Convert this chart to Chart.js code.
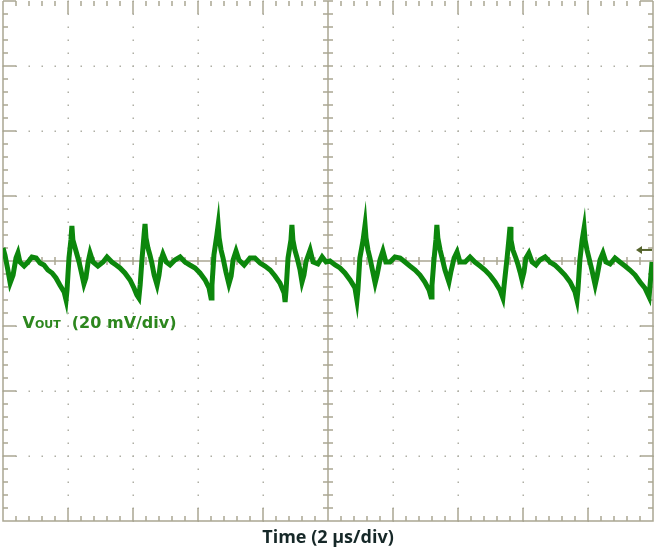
<!DOCTYPE html>
<html>
<head>
<meta charset="utf-8">
<script src="https://cdn.jsdelivr.net/npm/chart.js@4.4.1/dist/chart.umd.min.js"></script>
<style>
html,body{margin:0;padding:0;background:#fff;}
</style>
</head>
<body>
<canvas id="scope" width="659" height="557"></canvas>
<script>
// time in us, Vout ripple in mV
const timeUs=[0.00,0.06,0.15,0.22,0.31,0.40,0.46,0.52,0.65,0.77,0.89,1.02,1.14,1.26,1.38,1.51,1.63,1.75,1.88,1.94,
1.97,2.03,2.09,2.12,2.15,2.22,2.28,2.34,2.43,2.49,2.55,2.62,2.68,2.77,2.92,3.08,3.20,3.35,3.48,3.60,3.75,3.91,
4.03,4.12,4.18,4.22,4.28,4.34,4.37,4.40,4.46,4.52,4.58,4.65,4.74,4.80,4.86,4.92,5.02,5.14,5.29,5.45,5.60,5.75,
5.91,6.06,6.22,6.34,6.40,6.43,6.49,6.58,6.62,6.65,6.71,6.77,6.86,6.95,7.02,7.08,7.17,7.26,7.42,7.60,7.75,7.91,
8.06,8.22,8.37,8.52,8.65,8.68,8.71,8.77,8.86,8.89,8.92,8.98,9.05,9.14,9.20,9.26,9.32,9.45,9.54,9.69,9.82,9.94,
10.06,10.22,10.37,10.52,10.68,10.83,10.89,10.92,10.98,11.08,11.14,11.17,11.23,11.29,11.38,11.45,11.51,11.60,
11.69,11.78,11.91,12.06,12.22,12.37,12.52,12.68,12.83,12.98,13.11,13.17,13.20,13.26,13.32,13.35,13.38,13.45,
13.51,13.60,13.72,13.78,13.88,13.97,14.06,14.22,14.37,14.52,14.68,14.83,14.98,15.14,15.29,15.38,15.42,15.51,
15.57,15.60,15.63,15.69,15.78,15.85,15.91,15.97,16.03,16.09,16.18,16.28,16.40,16.52,16.68,16.83,16.98,17.14,
17.29,17.45,17.60,17.66,17.69,17.75,17.82,17.88,17.91,17.97,18.03,18.12,18.22,18.28,18.37,18.46,18.55,18.68,
18.83,18.98,19.14,19.29,19.45,19.60,19.75,19.88,19.91,19.97];
const voutMv=[4.0,1.85,-2.77,-6.77,-4.31,0.92,2.46,-0.31,-1.54,-0.31,1.23,0.92,-0.62,-1.23,-2.77,-3.69,-5.23,-7.38,-9.54,-12.0,
-8.92,0.92,6.46,10.77,6.46,4.0,1.85,-0.31,-4.31,-7.08,-5.23,-0.31,2.46,-0.31,-1.54,-0.31,1.23,-0.31,-1.23,-2.15,-3.69,-5.85,
-8.31,-10.46,-11.38,-7.38,0.92,8.0,11.38,7.08,4.0,1.85,-0.62,-4.31,-7.38,-4.31,0.31,2.15,-0.31,-1.23,0.31,1.23,-0.31,-1.23,
-2.15,-3.69,-5.85,-8.31,-11.38,-7.38,1.85,8.0,11.08,7.08,3.38,0.92,-3.38,-7.08,-4.62,0.31,3.08,0.31,-1.23,0.92,0.92,-0.62,
-1.54,-2.77,-4.62,-6.77,-9.85,-12.62,-8.92,0.92,6.46,11.08,6.46,3.38,0.92,-2.77,-6.46,-4.31,-0.31,3.38,-0.31,-0.92,1.23,-0.31,
0,-1.23,-2.15,-3.69,-5.85,-8.31,-12.0,-8.92,0.92,6.46,11.08,7.08,3.38,0.92,-3.38,-6.77,-4.31,0.31,
3.08,-0.31,-0.31,1.23,0.92,-0.31,-1.54,-2.77,-4.31,-6.46,-8.92,-11.08,-7.38,0.31,6.46,11.08,7.08,3.38,
0.92,-2.77,-6.46,-3.38,0.92,2.77,-0.31,-0.31,1.23,-0.31,-1.54,-2.77,-4.31,-6.46,-8.92,-11.38,-7.38,0.92,
7.08,10.46,6.46,3.38,0.92,-1.23,-3.38,-5.85,-3.38,0.92,2.46,-0.31,-1.23,0.31,1.23,-0.31,-1.23,-2.77,
-4.31,-6.46,-9.54,-12.0,-8.92,0.31,6.46,10.15,6.46,3.38,0.92,-2.77,-7.38,-4.62,0.31,2.46,-0.31,-0.92,
0.92,-0.31,-1.54,-2.77,-4.31,-6.46,-8.31,-11.08,-7.38,-0.31];

const xRange=[0,20];      // 10 div x 2 us
const yRange=[-80,80];    // 8 div x 20 mV
const xMajor=[0,2,4,6,8,10,12,14,16,18,20];
const yMajor=[-80,-60,-40,-20,0,20,40,60,80];
const xMinorStep=0.4, yMinorStep=4;
const labelParts=['V','OUT','  (20 mV/div)'];
const axisTitle='Time (2 µs/div)';

const gridCol='rgb(170,167,146)';
const dotCol='rgb(175,175,165)';

const points=timeUs.map((t,i)=>({x:t,y:voutMv[i]}));

const scopeGrid={
  id:'scopeGrid',
  beforeDatasetsDraw(chart){
    const ctx=chart.ctx, a=chart.chartArea;
    const xs=chart.scales.x, ys=chart.scales.y;
    ctx.save();
    // dotted graticule
    ctx.fillStyle=dotCol;
    xMajor.forEach(t=>{
      if(t==xRange[0]||t==xRange[1]||t==10) return;
      const px=Math.round(xs.getPixelForValue(t));
      for(let v=yRange[0];v<=yRange[1];v+=yMinorStep){
        ctx.fillRect(px-0.5,Math.round(ys.getPixelForValue(v))-0.5,1.5,1.5);
      }
    });
    yMajor.forEach(v=>{
      if(v==yRange[0]||v==yRange[1]||v==0) return;
      const py=Math.round(ys.getPixelForValue(v));
      for(let t=xRange[0];t<=xRange[1]+0.001;t+=xMinorStep){
        ctx.fillRect(Math.round(xs.getPixelForValue(t))-0.5,py-0.5,1.5,1.5);
      }
    });
    ctx.strokeStyle=gridCol;
    ctx.lineWidth=1.5;
    const cx=Math.round(xs.getPixelForValue(10));
    const cy=Math.round(ys.getPixelForValue(0));
    ctx.beginPath();
    // border (no top line)
    ctx.moveTo(a.left,a.top);ctx.lineTo(a.left,a.bottom);ctx.lineTo(a.right,a.bottom);ctx.lineTo(a.right,a.top);
    // centre cross
    ctx.moveTo(a.left,cy);ctx.lineTo(a.right,cy);
    ctx.moveTo(cx,a.top);ctx.lineTo(cx,a.bottom);
    // ticks along x
    let n=0;
    for(let t=xRange[0];t<=xRange[1]+0.001;t+=xMinorStep,n++){
      const px=Math.round(xs.getPixelForValue(t));
      const len=(n%5==0)?13:5;
      ctx.moveTo(px,a.top);ctx.lineTo(px,a.top+len);
      ctx.moveTo(px,a.bottom);ctx.lineTo(px,a.bottom-len);
      ctx.moveTo(px,cy-4);ctx.lineTo(px,cy+4);
    }
    n=0;
    for(let v=yRange[0];v<=yRange[1];v+=yMinorStep,n++){
      const py=Math.round(ys.getPixelForValue(v));
      const len=(n%5==0)?13:5;
      ctx.moveTo(a.left,py);ctx.lineTo(a.left+len,py);
      ctx.moveTo(a.right,py);ctx.lineTo(a.right-len,py);
      ctx.moveTo(cx-5,py);ctx.lineTo(cx+5,py);
    }
    ctx.stroke();
    ctx.restore();
  },
  afterDatasetsDraw(chart){
    const ctx=chart.ctx, a=chart.chartArea;
    const xs=chart.scales.x, ys=chart.scales.y;
    ctx.save();
    // channel label
    ctx.fillStyle='rgb(45,135,30)';
    ctx.textBaseline='alphabetic';
    let x=xs.getPixelForValue(0.6), y=ys.getPixelForValue(-20.5);
    ctx.font='bold 16px "DejaVu Sans"';
    ctx.fillText(labelParts[0],x,y);x+=ctx.measureText(labelParts[0]).width;
    ctx.font='bold 11px "DejaVu Sans"';
    ctx.fillText(labelParts[1],x,y);x+=ctx.measureText(labelParts[1]).width;
    ctx.font='bold 16px "DejaVu Sans"';
    ctx.fillText(labelParts[2],x,y);
    // ground marker arrow
    const ay=ys.getPixelForValue(3.4);
    ctx.strokeStyle='rgb(85,100,45)';ctx.fillStyle='rgb(85,100,45)';
    ctx.lineWidth=2;
    ctx.beginPath();ctx.moveTo(a.right-12,ay);ctx.lineTo(a.right-1,ay);ctx.stroke();
    ctx.beginPath();ctx.moveTo(a.right-17,ay);ctx.lineTo(a.right-11,ay-4);ctx.lineTo(a.right-11,ay+4);ctx.closePath();ctx.fill();
    ctx.restore();
  }
};

new Chart(document.getElementById('scope'),{
  type:'line',
  data:{
    datasets:[{
      data:points,
      borderColor:'rgb(12,135,12)',
      borderWidth:5,
      pointRadius:0,
      tension:0
    },{
      data:points,
      borderColor:'rgba(110,215,100,0.9)',
      borderWidth:1,
      pointRadius:0,
      tension:0
    }]
  },
  options:{
    responsive:false,
    animation:false,
    devicePixelRatio:1,
    layout:{padding:{left:3,right:6,top:1,bottom:0}},
    scales:{
      x:{type:'linear',min:xRange[0],max:xRange[1],display:false},
      y:{type:'linear',min:yRange[0],max:yRange[1],display:false}
    },
    plugins:{
      legend:{display:false},
      tooltip:{enabled:false},
      title:{
        display:true,
        position:'bottom',
        text:axisTitle,
        color:'rgb(22,40,40)',
        font:{family:'"Open Sans"',size:18,weight:'bold',lineHeight:1.2},
        padding:{top:6,bottom:8.4}
      }
    }
  },
  plugins:[scopeGrid]
});
</script>
</body>
</html>
